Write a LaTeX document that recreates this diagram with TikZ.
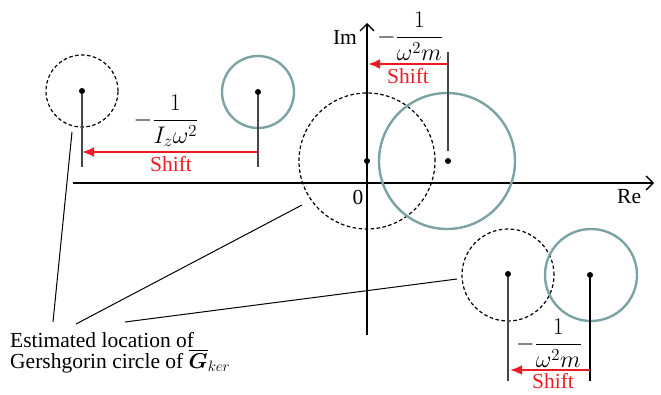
\RequirePackage{fix-cm}
\documentclass[tikz,border=0pt]{standalone}
\usepackage{amsmath}
\usepackage{fontspec}
\setmainfont{Liberation Serif}
\usetikzlibrary{arrows.meta}
\definecolor{teal1}{RGB}{124,163,163}
\definecolor{red1}{RGB}{237,28,36}
\definecolor{grayline}{RGB}{70,70,70}
\begin{document}
\begin{tikzpicture}[x=1pt,y=-1pt,
  dcirc/.style={circle,draw=black,dashed,dash pattern=on 3.5pt off 2.5pt,line width=1.2pt,inner sep=0pt,outer sep=0pt},
  tcirc/.style={circle,draw=teal1,line width=2.4pt,inner sep=0pt,outer sep=0pt},
  dotc/.style={circle,fill=black,inner sep=0pt,minimum size=6pt},
  vline/.style={draw=grayline,line width=1.2pt},
  shiftarrow/.style={draw=red1,line width=2.6pt,-{Latex[length=12pt,width=10pt]}},
  axis/.style={draw=black,line width=1.4pt,-{Straight Barb[length=7pt,width=14pt,line width=1.4pt]}},
  lead/.style={draw=black,line width=1pt},
  lbl/.style={font=\fontsize{21.5}{22}\selectfont,inner sep=0pt},
  shiftlbl/.style={lbl,text=red1,anchor=base},
  fraclbl/.style={font=\fontsize{24}{25}\selectfont,inner sep=0pt}]
\useasboundingbox (0,0) rectangle (661,394);

% axes
\coordinate (reL) at (73,183);
\coordinate (reR) at (654,183);
\coordinate (imB) at (367,335);
\coordinate (imT) at (367,23);
\draw[axis] (reL) -- (reR);
\draw[axis] (imB) -- (imT);
\node[lbl,anchor=base] (im) at (345,44) {Im};
\node[lbl,anchor=base west] (re) at (617,203) {Re};
\node[lbl,anchor=base] (zero) at (358,204) {0};

% top-left pair
\node[dcirc,minimum size=72pt] (c1) at (82,91) {};
\node[tcirc,minimum size=72pt] (t1) at (258,92) {};
\node[dotc] (d1) at (82,91) {};
\node[dotc] (e1) at (258,92) {};
\coordinate (d1b) at (82,167);
\coordinate (e1b) at (258,167);
\draw[vline] (d1) -- (d1b);
\draw[vline] (e1) -- (e1b);
\coordinate (a1s) at (258,152);
\coordinate (a1e) at (82,152);
\draw[shiftarrow] (a1s) -- (a1e);
\node[fraclbl] (f1) at (166,121) {$-\dfrac{1}{I_z\omega^2}$};
\node[shiftlbl] (s1) at (171,171) {Shift};

% middle pair
\node[dcirc,minimum size=136pt] (c2) at (367,161) {};
\node[tcirc,minimum size=136pt] (t2) at (447,161) {};
\node[dotc] (d2) at (367,161) {};
\node[dotc] (e2) at (448,161) {};
\coordinate (e2t) at (448,52);
\coordinate (e2b) at (448,151);
\draw[vline] (e2t) -- (e2b);
\coordinate (a2s) at (448,64);
\coordinate (a2e) at (368,64);
\draw[shiftarrow] (a2s) -- (a2e);
\node[fraclbl] (f2) at (410,36) {$-\dfrac{1}{\omega^2 m}$};
\node[shiftlbl] (s2) at (408,83) {Shift};

% bottom-right pair
\node[dcirc,minimum size=92pt] (c3) at (508,275) {};
\node[tcirc,minimum size=92pt] (t3) at (591,275) {};
\node[dotc] (d3) at (508,274) {};
\node[dotc] (e3) at (590,275) {};
\coordinate (d3b) at (508,381);
\coordinate (e3b) at (590,381);
\draw[vline] (d3) -- (d3b);
\draw[black,line width=1.2pt] (e3) -- (e3b);
\coordinate (a3s) at (590,370);
\coordinate (a3e) at (510,370);
\draw[shiftarrow] (a3s) -- (a3e);
\node[fraclbl] (f3) at (549,343) {$-\dfrac{1}{\omega^2 m}$};
\node[shiftlbl] (s3) at (553,388) {Shift};

% annotation text
\node[lbl,anchor=base west] (txt1) at (10,347) {Estimated location of};
\node[lbl,anchor=base west] (txt2) at (10,368) {Gershgorin circle of $\overline{\boldsymbol{G}}_{ker}$};

% leader lines
\coordinate (l1a) at (53,322);
\coordinate (l1b) at (72,132);
\coordinate (l2a) at (76,324);
\coordinate (l2b) at (302,205);
\coordinate (l3a) at (125,322);
\coordinate (l3b) at (457,279);
\draw[lead] (l1a) -- (l1b);
\draw[lead] (l2a) -- (l2b);
\draw[lead] (l3a) -- (l3b);
\end{tikzpicture}
\end{document}
